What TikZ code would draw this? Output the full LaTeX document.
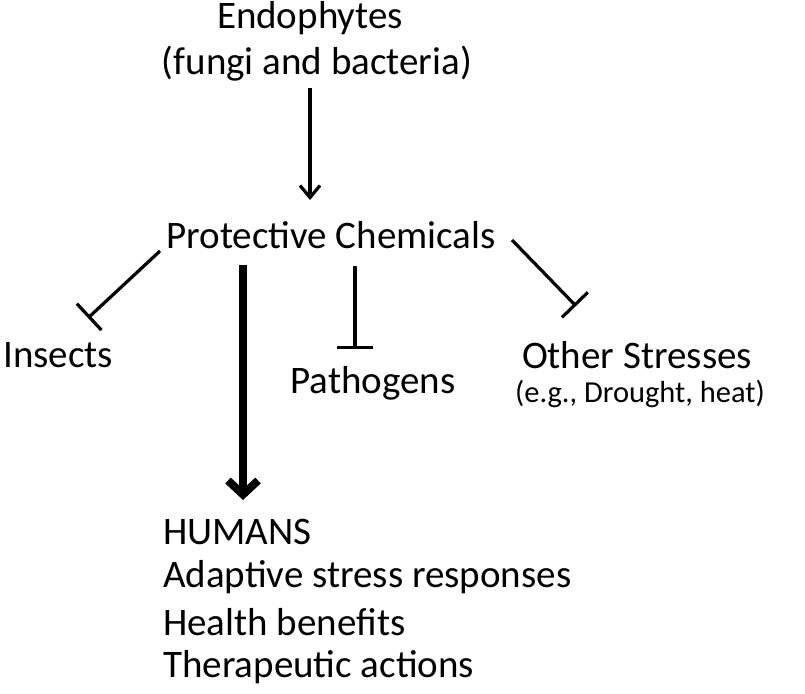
\documentclass[tikz,border=0pt]{standalone}
\usepackage{fontspec}
\setmainfont{Carlito}
\usetikzlibrary{arrows.meta}
\begin{document}
\begin{tikzpicture}[x=1pt,y=-1pt,
  lbl/.style={font=\fontsize{39}{46}\selectfont,inner sep=0pt},
  small/.style={font=\fontsize{30.5}{36}\selectfont,inner sep=0pt},
  inhib/.style={line width=3.2pt,-{Bar[width=36pt,line width=3.2pt]}},
  thin/.style={line width=3.2pt,-{Straight Barb[length=12pt,width=20pt,line width=3.2pt]}},
  thick/.style={line width=8pt,-{Straight Barb[length=14pt,width=30pt,line width=8pt]}}]
\useasboundingbox (0,0) rectangle (805,693);
\node[lbl] (endo) at (310,18) {Endophytes};
\node[lbl] (endo2) at (317,64) {(fungi and bacteria)};
\node[lbl] (prot) at (331,235) {Protective Chemicals};
\node[lbl,anchor=west] (ins) at (3,355) {Insects};
\node[lbl] (path) at (373,383) {Pathogens};
\node[lbl] (oth) at (637,355) {Other Stresses};
\node[small] (eg) at (640,394) {(e.g., Drought, heat)};
\node[lbl,anchor=west] (hum) at (163,532) {HUMANS};
\node[lbl,anchor=west] (h2) at (163,577) {Adaptive stress responses};
\node[lbl,anchor=west] (h3) at (163,622) {Health benefits};
\node[lbl,anchor=west] (h4) at (163,667) {Therapeutic actions};
\coordinate (a1) at (310,88); \coordinate (a2) at (310,200);
\draw[thin] (a1) -- (a2);
\coordinate (t1) at (160,251); \coordinate (t1e) at (88,318);
\draw[inhib] (t1) -- (t1e);
\coordinate (t2) at (355,266); \coordinate (t2e) at (355,349);
\draw[inhib] (t2) -- (t2e);
\coordinate (t3) at (512,240); \coordinate (t3e) at (576,306);
\draw[inhib] (t3) -- (t3e);
\coordinate (b1) at (243,265); \coordinate (b2) at (243,500);
\draw[thick] (b1) -- (b2);
\end{tikzpicture}
\end{document}
